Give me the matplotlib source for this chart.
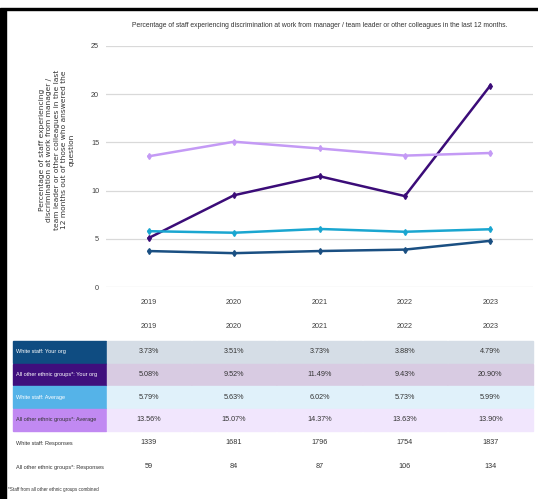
import matplotlib
matplotlib.use('Agg')
import matplotlib.pyplot as plt
from matplotlib.patches import Rectangle

plt.rcParams['font.family'] = ['Liberation Sans', 'DejaVu Sans']

years = ['2019', '2020', '2021', '2022', '2023']
white_org = [3.73, 3.51, 3.73, 3.88, 4.79]
other_org = [5.08, 9.52, 11.49, 9.43, 20.90]
white_avg = [5.79, 5.63, 6.02, 5.73, 5.99]
other_avg = [13.56, 15.07, 14.37, 13.63, 13.90]
white_resp = [1339, 1681, 1796, 1754, 1837]
other_resp = [59, 84, 87, 106, 134]

row_names = ['White staff: Your org', 'All other ethnic groups*: Your org',
             'White staff: Average', 'All other ethnic groups*: Average']
line_cols = ['#1a4f82', '#3b0c78', '#1aa6d0', '#c49af5']
head_cols = ['#0f4c81', '#3f0f7d', '#55b3e8', '#c189f2']
cell_cols = ['#d5dde6', '#d8cbe2', '#e0f1fa', '#f1e6fd']
head_txt = ['white', 'white', 'white', '#333333']

W, H = 538, 499
fig = plt.figure(figsize=(W / 100, H / 100), dpi=100)

# chart axes (pixel box 106..533 x 46..287)
ax = fig.add_axes([106 / W, 1 - 287 / H, (533 - 106) / W, (287 - 46) / H])
x = list(range(len(years)))
series = [white_org, other_org, white_avg, other_avg]
for k in [2, 3, 0, 1]:
    ax.plot(x, series[k], color=line_cols[k], lw=1.8, marker='d', ms=3,
            solid_joinstyle='round', zorder=3 + k)
ax.set_xlim(-0.5, 4.5)
ax.set_ylim(0, 25)
ax.set_yticks([0, 5, 10, 15, 20, 25])
ax.set_xticks(x)
ax.set_xticklabels(years)
ax.grid(axis='y', color='#d9d9d9', lw=0.9)
ax.set_axisbelow(True)
for s in ax.spines.values():
    s.set_visible(False)
ax.tick_params(length=0, labelsize=5.2, colors='#404040', pad=5)
ax.tick_params(axis='x', pad=9)
ax.set_title('Percentage of staff experiencing discrimination at work from manager / '
             'team leader or other colleagues in the last 12 months.',
             fontsize=4.9, color='#333333', pad=14)

# overlay in pixel coords for the table and frame
ov = fig.add_axes([0, 0, 1, 1])
ov.set_xlim(0, W)
ov.set_ylim(H, 0)
ov.axis('off')
ov.patch.set_alpha(0)

ov.text(57, 150, 'Percentage of staff experiencing\ndiscrimination at work from manager /\n'
        'team leader or other colleagues in the last\n12 months out of those who answered the\nquestion',
        rotation=90, ha='center', va='center', fontsize=5.4, family='DejaVu Sans',
        color='#333333', linespacing=1.3, multialignment='center')

# frame
ov.add_patch(Rectangle((0, 9), 6, H - 9, color='black'))
ov.add_patch(Rectangle((0, 8), W, 2.2, color='black'))

col_w = (533 - 106) / 5
for i, yr in enumerate(years):
    ov.text(106 + col_w * (i + 0.5), 327, yr, ha='center', va='center',
            fontsize=5.2, color='#404040')

row_h = 22.7
top = 341
for r in range(4):
    y0 = top + r * row_h
    ov.add_patch(Rectangle((13, y0), 106 - 13, row_h - 1, color=head_cols[r]))
    ov.text(16, y0 + row_h / 2 - 0.5, row_names[r], ha='left', va='center',
            fontsize=4.0, color=head_txt[r])
    for i in range(5):
        ov.add_patch(Rectangle((106 + col_w * i + 0.5, y0), col_w - 1, row_h - 1,
                               color=cell_cols[r]))
        ov.text(106 + col_w * (i + 0.5), y0 + row_h / 2 - 0.5, '%.2f%%' % series[r][i],
                ha='center', va='center', fontsize=5.2, color='#333333')

for lab, vals, yy in [('White staff: Responses', white_resp, 443),
                      ('All other ethnic groups*: Responses', other_resp, 467)]:
    ov.text(16, yy, lab, ha='left', va='center', fontsize=4.0, color='#333333')
    for i, v in enumerate(vals):
        ov.text(106 + col_w * (i + 0.5), yy, str(v), ha='center', va='center',
                fontsize=5.2, color='#333333')

ov.text(8, 490, '*Staff from all other ethnic groups combined', ha='left', va='center',
        fontsize=3.3, color='#333333')

fig.savefig('out.png', dpi=100)
